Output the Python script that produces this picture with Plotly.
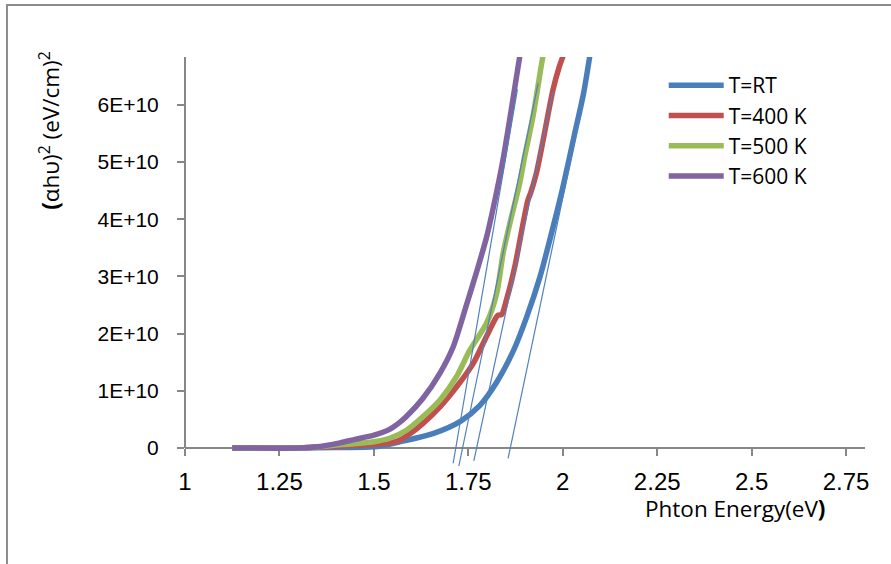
import plotly.graph_objects as go

# ---- data (photon energy in eV, (alpha h nu)^2 in units of 1e10 (eV/cm)^2) ----
rt_x = [1.125, 1.20, 1.30, 1.40, 1.50, 1.57, 1.66, 1.73, 1.78, 1.825, 1.87, 1.905, 1.94, 1.97, 2.00, 2.03, 2.055, 2.075]
rt_y = [0, 0, 0, 0.01, 0.02, 0.11, 0.26, 0.47, 0.74, 1.15, 1.71, 2.30, 3.00, 3.75, 4.55, 5.45, 6.20, 7.00]

k400_x = [1.125, 1.30, 1.40, 1.50, 1.542, 1.569, 1.60, 1.63, 1.675, 1.719, 1.763, 1.798, 1.820, 1.828, 1.838,
          1.851, 1.873, 1.895, 1.908, 1.915, 1.93, 1.948, 1.974, 1.99, 2.00, 2.012]
k400_y = [0, 0, 0.03, 0.06, 0.09, 0.14, 0.27, 0.43, 0.72, 1.07, 1.48, 1.95, 2.24, 2.32, 2.33,
          2.59, 3.17, 3.93, 4.34, 4.46, 4.80, 5.38, 6.26, 6.65, 6.84, 7.05]

k500_x = [1.125, 1.30, 1.40, 1.50, 1.542, 1.586, 1.630, 1.675, 1.719, 1.754, 1.798, 1.825, 1.842, 1.860,
          1.886, 1.899, 1.921, 1.944, 1.953]
k500_y = [0, 0, 0.05, 0.11, 0.17, 0.31, 0.55, 0.84, 1.25, 1.71, 2.18, 2.70, 3.40, 3.93,
          4.63, 5.09, 5.79, 6.72, 7.05]

k600_x = [1.125, 1.30, 1.35, 1.41, 1.45, 1.498, 1.522, 1.545, 1.565, 1.586, 1.630, 1.675, 1.710, 1.745,
          1.772, 1.798, 1.816, 1.842, 1.886, 1.895]
k600_y = [0, 0, 0.02, 0.09, 0.15, 0.22, 0.27, 0.34, 0.43, 0.55, 0.87, 1.31, 1.77, 2.50,
          3.08, 3.68, 4.20, 5.05, 6.84, 7.20]

# tangent (extrapolation) lines, each a pair of end points
tan600_x = [1.7098, 1.880]
tan600_y = [-0.267, 6.27]
tan500_x = [1.7249, 1.9347]
tan500_y = [-0.315, 6.376]
tan400_x = [1.7646, 1.9743]
tan400_y = [-0.227, 6.23]
tanrt_x = [1.8553, 2.045]
tanrt_y = [-0.18, 5.79]

series_names = ["T=RT", "T=400 K", "T=500 K", "T=600 K"]
series_colors = ["#4A7EBB", "#C0504D", "#9BBB59", "#8064A2"]

x_ticks = [1, 1.25, 1.5, 1.75, 2, 2.25, 2.5, 2.75]
x_ticktext = ["1", "1.25", "1.5", "1.75", "2", "2.25", "2.5", "2.75"]
y_ticks = [0, 1, 2, 3, 4, 5, 6]
y_ticktext = ["0", "1E+10", "2E+10", "3E+10", "4E+10", "5E+10", "6E+10"]

SCALE = 1e10

fig = go.Figure()
curves = [(rt_x, rt_y), (k400_x, k400_y), (k500_x, k500_y), (k600_x, k600_y)]
for (xs, ys), name, col in zip(curves, series_names, series_colors):
    fig.add_trace(go.Scatter(x=xs, y=[v * SCALE for v in ys], mode="lines", name=name,
                             line=dict(color=col, width=5.5, shape="spline", smoothing=0.7)))

for xs, ys in [(tan600_x, tan600_y), (tan500_x, tan500_y), (tan400_x, tan400_y), (tanrt_x, tanrt_y)]:
    fig.add_trace(go.Scatter(x=xs, y=[v * SCALE for v in ys], mode="lines", showlegend=False,
                             hoverinfo="skip", line=dict(color="#4F81BD", width=1.2)))

axis_col = "#878787"
xtick_font = dict(family="Liberation Sans, Arial, sans-serif", size=24, color="black")
ytick_font = dict(family="Liberation Sans, Arial, sans-serif", size=21, color="black")
title_font = dict(family="Open Sans, sans-serif", size=22.5, color="black")

fig.update_layout(
    width=891, height=564,
    margin=dict(l=185, r=26, t=57, b=96),
    paper_bgcolor="white", plot_bgcolor="white",
    showlegend=True,
    legend=dict(x=0.704, y=0.9805, xanchor="left", yanchor="top",
                font=dict(family="Open Sans, sans-serif", size=21, color="black"),
                bgcolor="rgba(0,0,0,0)", itemwidth=55, tracegroupgap=0),
    xaxis=dict(range=[1, 2.8], tickvals=x_ticks, ticktext=x_ticktext,
               showgrid=False, zeroline=False, showline=True, linecolor=axis_col, linewidth=2,
               ticks="outside", ticklen=7, tickwidth=2, tickcolor=axis_col,
               tickfont=xtick_font, anchor="free", position=20 / 411, layer="below traces",
               ticklabelstandoff=5),
    yaxis=dict(range=[-0.35 * SCALE, 6.836 * SCALE], tickvals=[v * SCALE for v in y_ticks],
               ticktext=y_ticktext, showgrid=False, zeroline=False, showline=False,
               ticks="outside", ticklen=7, tickwidth=2, tickcolor=axis_col,
               tickfont=ytick_font, layer="below traces", ticklabelstandoff=14),
    shapes=[
        dict(type="line", xref="paper", yref="paper", x0=0, x1=0, y0=20 / 411, y1=1,
             line=dict(color=axis_col, width=2), layer="below"),
        dict(type="rect", xref="paper", yref="paper", x0=-0.2618, x1=1.1, y0=-0.35, y1=1.1265,
             line=dict(color="#8C8C8C", width=2), fillcolor="rgba(0,0,0,0)", layer="below"),
    ],
    annotations=[
        dict(text="Phton Energy(eV<b>)</b>", xref="paper", yref="paper", x=0.809, y=-0.098,
             xanchor="center", yanchor="middle", showarrow=False, font=title_font),
        dict(text="<b>(</b>\u03b1h\u03c5)<sup>2</sup> (eV/cm)<sup>2</sup>", xref="paper", yref="paper",
             x=-0.2005, y=0.822, xanchor="center", yanchor="middle", textangle=-90, showarrow=False,
             font=title_font),
    ],
)

fig.write_html("out.html")
